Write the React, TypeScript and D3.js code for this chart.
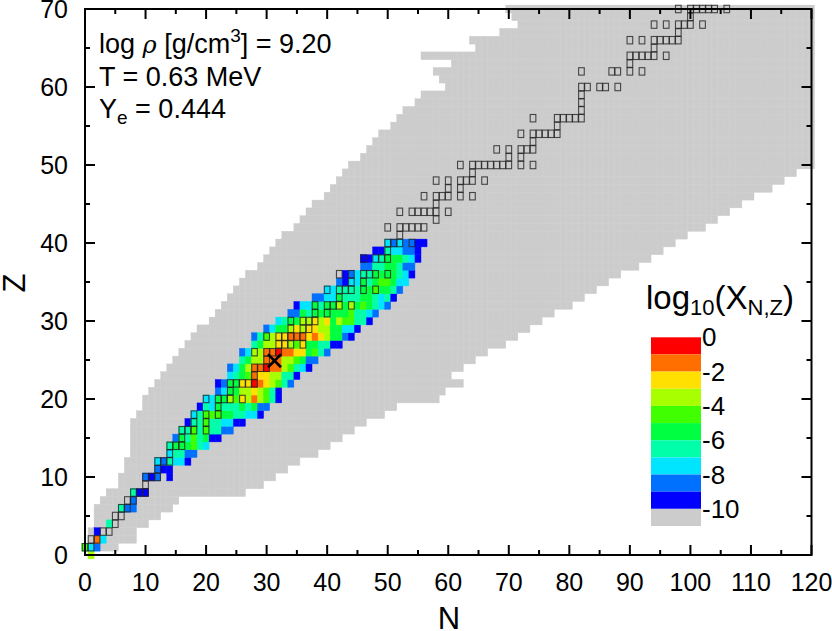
import React from "react";
import * as d3 from "d3";

const W = 832, H = 631;
const FONT = "'Liberation Sans', Arial, sans-serif";

// Grey region: first and last N of each Z = 1..70
const greyFirstN = [0,1,1,2,2,2,3,4,6,6,7,7,8,8,8,8,8,9,10,10,11,12,13,14,15,16,17,18,19,21,22,23,24,25,26,27,29,30,31,32,33,35,36,37,38,40,41,42,43,44,46,47,48,49,51,52,53,55,56,60,59,58,61,56,65,64,69,72,71,70];
const greyLastN = [5,8,8,10,12,14,15,26,29,31,33,35,38,40,42,44,46,49,51,58,59,62,60,62,64,66,69,71,73,75,77,80,82,84,86,88,91,93,95,97,99,102,104,106,108,110,113,115,117,120,120,120,120,120,120,120,120,120,120,120,120,120,120,120,120,120,120,120,120,120];

// Abundance bands: 0 = [-1,0], 1 = [-2,-1] ... 9 = [-10,-9]
const bandColors = ["#ff0000","#ff6f00","#ffe000","#a8ff00","#40ff00","#00ff40","#00ffa8","#00e5ff","#0070ff","#0000ff"];
const greyColor = "#cccccc";

// [Z, first N, bands...]
const abundanceRows: number[][] = [
  [0,1,3],
  [1,0,4,7,8],
  [2,2,1,7],
  [3,2,9],
  [4,4,6],
  [6,6,6,8,8],
  [7,8,8],
  [8,8,6,9,9],
  [10,10,8,9,8],
  [10,14,9],
  [11,12,8,9,9],
  [12,12,7,8,6,7,7,9],
  [13,14,7,6,6,8,8],
  [14,14,6,5,5,5,4,6,7],
  [15,15,8,5,6,4,6,5,9,9],
  [16,16,6,6,4,6,4,6,6,8,8],
  [17,17,9,6,6,4,6,6,7,7,9,9],
  [18,18,7,6,4,4,4,5,5,6,6,7,7,9],
  [19,19,9,6,7,5,6,6,6,5,6,5,8,8],
  [20,20,7,7,5,5,3,4,2,3,1,3,4,6,9],
  [21,22,8,7,5,5,3,3,2,3,4,6,9],
  [22,22,9,8,5,5,2,2,0,1,2,3,4,6,8],
  [23,24,7,6,5,4,1,2,2,3,3,6,6,9],
  [24,24,8,7,5,3,1,1,0,1,1,3,4,6,7,9],
  [25,26,6,5,3,3,1,1,1,3,3,4,5,8,8],
  [26,26,8,7,3,3,1,1,0,1,1,2,2,5,4,6,8],
  [27,28,6,5,3,3,2,2,3,4,2,5,5,6,6,9,9],
  [28,28,8,6,4,3,2,2,1,1,1,2,1,2,3,5,5,8,9],
  [29,30,8,7,5,5,3,2,3,2,2,3,3,5,5,7,7,9],
  [30,32,7,6,5,5,3,3,2,3,2,5,3,4,4,6,6,9],
  [31,34,8,8,5,6,5,5,5,5,5,5,4,6,6,7,8],
  [32,35,9,7,7,5,6,5,5,3,5,3,5,4,5,6,7,8],
  [33,38,8,8,7,7,5,6,6,6,5,5,6,7,6,9],
  [34,40,7,7,6,6,6,6,5,5,4,5,5,6,8],
  [35,42,8,9,7,7,5,6,5,4,4,5,7,7],
  [36,43,9,8,7,6,6,5,5,5,5,6,7,9],
  [37,46,8,8,6,6,5,5,6,8,8],
  [38,46,9,9,7,6,5,5,5,6,7,9],
  [39,48,9,9,6,7,7,8,8,9],
  [40,50,7,8,7,8,8,9,9],
];

// [Z, N...] : outlined nuclei
const squareRows: number[][] = [
  [1,0,1],[2,1,2],[3,3,4],[4,5],[5,5,6],[6,6,7],[7,7,8],[8,8,9,10],[9,10],[10,10,11,12],[11,12],
  [12,12,13,14],[13,14],[14,14,15,16],[15,16],[16,16,17,18,20],[17,18,20],[18,18,20,22],[19,22],
  [20,20,22,23,24,26],[21,24],[22,24,25,26,27,28],[23,28],[24,28,29,30],[25,30],[26,28,30,31,32],
  [27,32,33,34,36],[28,30,32,33,34,35,36],[29,34,36,37],[30,34,36,37,38],[31,38,40],[32,38,40,41,42,44],
  [33,42],[34,40,42,43,44,46,48],[35,44,46],[36,42,44,46,47,48,50],[38,46,48,49,50],[39,50],[40,50,51,52,54],
  [41,52],[42,50,52,53,54,55,56],[43,58],[44,52,54,55,56,57,58,60],[45,58],[46,56,58,59,60,62,64],
  [47,60,62],[48,58,60,62,63,64,66],[49,64],[50,62,64,65,66,67,68,69,70,72,74],[51,70,72],
  [52,68,70,72,73,74],[53,74],[54,72,74,75,76,77,78],[55,78],[56,74,78,79,80,81,82],[57,82],[58,82],
  [59,82],[60,82,83,85,86,88],[62,82,87,88,90,92],[63,90],[64,90,91,92,93,94,96],[65,94],
  [66,90,92,94,95,96,97,98],[67,98],[68,94,96,98,99,100,102],[69,100],[70,98,100,101,102,103,104,106],
];

const maxMarker = { n: 31.3, z: 24.9 };
const legendLabels = [0,-2,-4,-6,-8,-10];

const x = d3.scaleLinear().domain([0,120]).range([85,811.5]);
const y = d3.scaleLinear().domain([0,70]).range([555,9]);
const legendY = d3.scaleLinear().domain([0,-11]).range([337.3,526]);

const cw = x(1)-x(0);
const ch = y(0)-y(1);

function Cell({n,z,fill}:{n:number;z:number;fill:string}) {
  return <rect x={x(n)-cw/2} y={y(z)-ch/2} width={cw} height={ch} fill={fill} stroke={fill} strokeWidth={0.4} />;
}

export default function App() {
  const major = d3.range(0,121,10), minorX = d3.range(5,120,10);
  const majorY = d3.range(0,71,10), minorY = d3.range(5,70,10);
  const tk = { stroke:"#000", strokeWidth:2 };
  return (
    <svg width={W} height={H} viewBox={`0 0 ${W} ${H}`} style={{position:"absolute",left:0,top:0,background:"#fff"}} fontFamily={FONT}>
      <g>
        {greyFirstN.map((first,i)=>d3.range(first,greyLastN[i]+1).map(n=><Cell key={`g${i}-${n}`} n={n} z={i+1} fill={greyColor}/>))}
      </g>
      <g>
        {abundanceRows.map(([z,first,...bands])=>bands.map((b,i)=><Cell key={`a${z}-${first+i}`} n={first+i} z={z} fill={bandColors[b]}/>))}
      </g>
      <g fill="none" stroke="#222" strokeOpacity={0.8} strokeWidth={1.1}>
        {squareRows.map(([z,...ns])=>ns.map(n=><rect key={`s${z}-${n}`} x={x(n)-cw/2+0.2} y={y(z)-ch/2+0.2} width={cw-0.4} height={ch-0.4}/>))}
      </g>
      <g stroke="#000" strokeWidth={2.6}>
        <line x1={x(maxMarker.n)-6.5} x2={x(maxMarker.n)+6.5} y1={y(maxMarker.z)-6.5} y2={y(maxMarker.z)+6.5}/>
        <line x1={x(maxMarker.n)-6.5} x2={x(maxMarker.n)+6.5} y1={y(maxMarker.z)+6.5} y2={y(maxMarker.z)-6.5}/>
      </g>
      <rect x={x(0)} y={y(70)} width={x(120)-x(0)} height={y(0)-y(70)} fill="none" stroke="#000" strokeWidth={2}/>
      <g {...tk}>
        {major.map(v=><g key={v}><line x1={x(v)} x2={x(v)} y1={y(0)} y2={y(0)-10}/><line x1={x(v)} x2={x(v)} y1={y(70)} y2={y(70)+10}/></g>)}
        {minorX.map(v=><g key={v}><line x1={x(v)} x2={x(v)} y1={y(0)} y2={y(0)-5}/><line x1={x(v)} x2={x(v)} y1={y(70)} y2={y(70)+5}/></g>)}
        {majorY.map(v=><g key={v}><line x1={x(0)} x2={x(0)+10} y1={y(v)} y2={y(v)}/><line x1={x(120)} x2={x(120)-10} y1={y(v)} y2={y(v)}/></g>)}
        {minorY.map(v=><g key={v}><line x1={x(0)} x2={x(0)+5} y1={y(v)} y2={y(v)}/><line x1={x(120)} x2={x(120)-5} y1={y(v)} y2={y(v)}/></g>)}
      </g>
      <g fontSize={25} fill="#000">
        {major.map(v=><text key={v} x={x(v)} y={591} textAnchor="middle">{v}</text>)}
        {majorY.map(v=><text key={v} x={68} y={y(v)+9} textAnchor="end">{v}</text>)}
      </g>
      <text x={449} y={629} fontSize={31} textAnchor="middle">N</text>
      <text transform="translate(25,283) rotate(-90)" fontSize={31} textAnchor="middle">Z</text>
      <g fontSize={27} fill="#000">
        <text x={99} y={53}>log <tspan fontFamily="'DejaVu Serif', serif" fontStyle="italic" fontSize={24}>ρ</tspan> [g/cm<tspan dy={-11} fontSize={19}>3</tspan><tspan dy={11}>] = 9.20</tspan></text>
        <text x={99} y={86}>T = 0.63 MeV</text>
        <text x={99} y={118}>Y<tspan dy={6} fontSize={19}>e</tspan><tspan dy={-6}> = 0.444</tspan></text>
      </g>
      <text x={646} y={309} fontSize={33}>log<tspan dy={6} fontSize={22}>10</tspan><tspan dy={-6}>(X</tspan><tspan dy={6} fontSize={22}>N,Z</tspan><tspan dy={-6}>)</tspan></text>
      <g>
        {bandColors.map((c,i)=><rect key={c} x={651} y={legendY(-i)} width={50} height={legendY(-i-1)-legendY(-i)} fill={c}/>)}
        <rect x={651} y={legendY(-10)} width={50} height={legendY(-11)-legendY(-10)} fill={greyColor}/>
      </g>
      <g fontSize={26}>
        {legendLabels.map(v=><text key={v} x={702} y={legendY(v)+9}>{v}</text>)}
      </g>
    </svg>
  );
}
